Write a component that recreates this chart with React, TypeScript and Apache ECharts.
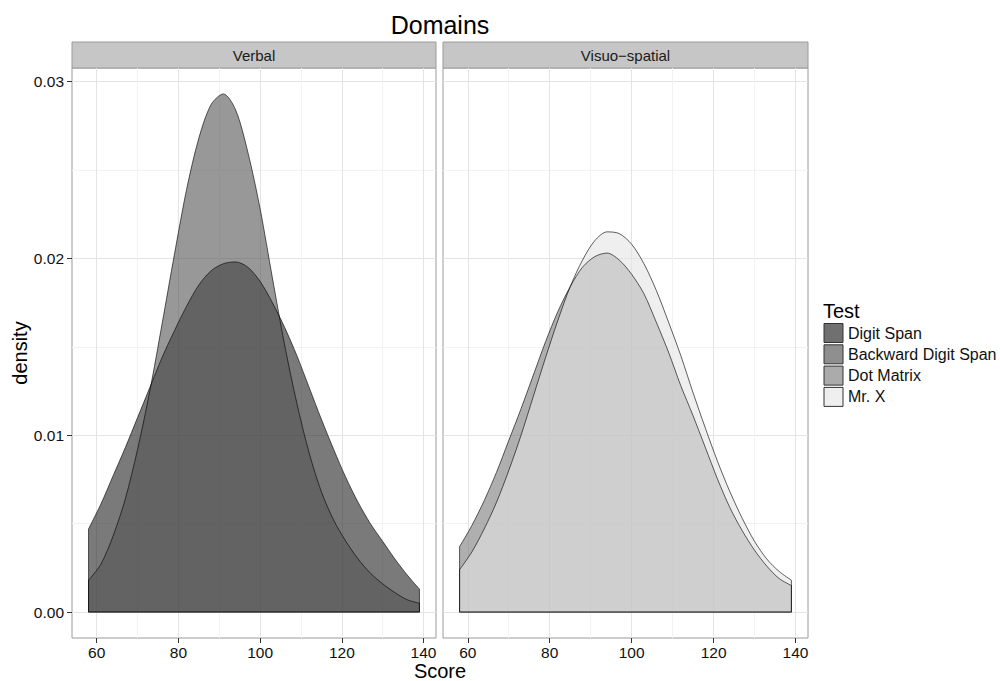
import React, { useEffect, useRef } from "react";
import * as echarts from "echarts";

// ---- data ----
const scores = [58, 61, 64, 67, 70, 73, 76, 79, 82, 85, 88, 91, 94, 97, 100, 103, 106, 109, 112, 115, 118, 121, 124, 127, 130, 133, 136, 139];

const digitSpan = [0.0047, 0.0061, 0.0077, 0.0093, 0.011, 0.0127, 0.0144, 0.0159, 0.0173, 0.0185, 0.0193, 0.0197, 0.0198, 0.0195, 0.0187, 0.0175, 0.0161, 0.0145, 0.0127, 0.0109, 0.0092, 0.0076, 0.0062, 0.005, 0.004, 0.003, 0.0021, 0.0013];
const backwardDigitSpan = [0.0018, 0.0027, 0.0043, 0.0064, 0.0092, 0.0125, 0.0163, 0.0202, 0.0239, 0.0268, 0.0287, 0.0293, 0.0284, 0.026, 0.0228, 0.0189, 0.0151, 0.0118, 0.009, 0.0068, 0.0052, 0.004, 0.003, 0.0022, 0.0016, 0.0011, 0.0007, 0.0005];
const dotMatrix = [0.0037, 0.0049, 0.0063, 0.0079, 0.0097, 0.0115, 0.0134, 0.0153, 0.017, 0.0184, 0.0195, 0.0201, 0.0203, 0.0199, 0.0191, 0.018, 0.0164, 0.0147, 0.0128, 0.0111, 0.0093, 0.0075, 0.0059, 0.0046, 0.0035, 0.0026, 0.0019, 0.0015];
const mrX = [0.0024, 0.0034, 0.0047, 0.0062, 0.008, 0.01, 0.0122, 0.0144, 0.0165, 0.0184, 0.0199, 0.021, 0.0215, 0.0214, 0.0208, 0.0197, 0.0182, 0.0164, 0.0145, 0.0124, 0.0104, 0.0085, 0.0068, 0.0053, 0.004, 0.003, 0.0023, 0.0018];

const testNames = ["Digit Span", "Backward Digit Span", "Dot Matrix", "Mr. X"];
const panels = ["Verbal", "Visuo\u2212spatial"];

const xTicks = [60, 80, 100, 120, 140];
const xMinorTicks = [70, 90, 110, 130];
const yTicks = [0, 0.01, 0.02, 0.03];
const yMinorTicks = [0.005, 0.015, 0.025];

const X_MIN = 53.95;
const X_MAX = 143.05;
const Y_MIN = -0.001465;
const Y_MAX = 0.030765;

const FONT = "Liberation Sans, Arial, Helvetica, sans-serif";
const fillColors = ["#222222", "#545454", "#797979", "#e4e4e4"];
const legendColors = ["#707070", "#8f8f8f", "#ababab", "#efefef"];

const gridBoxes = [
  { left: 72, top: 68, width: 364, height: 570 },
  { left: 443, top: 68, width: 365, height: 570 },
];

export default function App() {
  const ref = useRef<HTMLDivElement>(null);

  useEffect(() => {
    if (!ref.current) return;
    const chart = echarts.init(ref.current, null, { renderer: "svg" });

    const outline = { color: "#000", opacity: 0.62, width: 1 };

    const xAxes: any[] = [];
    const yAxes: any[] = [];
    gridBoxes.forEach((_, gi) => {
      xAxes.push({
        type: "value",
        gridIndex: gi,
        min: X_MIN,
        max: X_MAX,
        position: "bottom",
        axisLine: { show: false, onZero: false },
        axisTick: { show: true, customValues: xTicks, length: 5, lineStyle: { color: "#333", width: 1 } },
        axisLabel: { customValues: xTicks, fontSize: 15.5, color: "#111", margin: 6, fontFamily: FONT },
        splitLine: { show: true, customValues: xTicks, lineStyle: { color: "#e4e4e4", width: 1 } },
      });
      xAxes.push({
        type: "value",
        gridIndex: gi,
        min: X_MIN,
        max: X_MAX,
        position: "top",
        axisLine: { show: false, onZero: false },
        axisTick: { show: false, customValues: xMinorTicks },
        axisLabel: { show: false, customValues: xMinorTicks },
        splitLine: { show: true, customValues: xMinorTicks, lineStyle: { color: "#f2f2f2", width: 1 } },
      });
      yAxes.push({
        type: "value",
        gridIndex: gi,
        min: Y_MIN,
        max: Y_MAX,
        position: "left",
        axisLine: { show: false, onZero: false },
        axisTick: { show: gi === 0, customValues: yTicks, length: 5, lineStyle: { color: "#333", width: 1 } },
        axisLabel: {
          show: gi === 0,
          customValues: yTicks,
          fontSize: 15.5,
          color: "#111",
          margin: 8,
          fontFamily: FONT,
          formatter: (v: number) => v.toFixed(2),
        },
        splitLine: { show: true, customValues: yTicks, lineStyle: { color: "#e4e4e4", width: 1 } },
      });
      yAxes.push({
        type: "value",
        gridIndex: gi,
        min: Y_MIN,
        max: Y_MAX,
        position: "right",
        axisLine: { show: false, onZero: false },
        axisTick: { show: false, customValues: yMinorTicks },
        axisLabel: { show: false, customValues: yMinorTicks },
        splitLine: { show: true, customValues: yMinorTicks, lineStyle: { color: "#f2f2f2", width: 1 } },
      });
    });

    const tests = [
      { name: testNames[0], vals: digitSpan, panel: 0 },
      { name: testNames[1], vals: backwardDigitSpan, panel: 0 },
      { name: testNames[2], vals: dotMatrix, panel: 1 },
      { name: testNames[3], vals: mrX, panel: 1 },
    ];

    const series: any[] = [];
    tests.forEach((t, i) => {
      const last = scores.length - 1;
      series.push({
        type: "line",
        name: t.name,
        xAxisIndex: t.panel * 2,
        yAxisIndex: t.panel * 2,
        data: scores.map((x, k) => [x, t.vals[k]]),
        smooth: 0.3,
        symbol: "none",
        showSymbol: false,
        silent: true,
        lineStyle: outline,
        areaStyle: { color: fillColors[i], opacity: 0.6 },
        z: 2,
      });
      series.push({
        type: "line",
        name: t.name + " outline",
        xAxisIndex: t.panel * 2,
        yAxisIndex: t.panel * 2,
        data: [
          [scores[0], t.vals[0]],
          [scores[0], 0],
          [scores[last], 0],
          [scores[last], t.vals[last]],
        ],
        symbol: "none",
        showSymbol: false,
        silent: true,
        lineStyle: outline,
        z: 2,
      });
    });

    const graphic: any[] = [];
    gridBoxes.forEach((g, gi) => {
      graphic.push({
        type: "rect",
        shape: { x: g.left, y: 42, width: g.width, height: 26 },
        style: { fill: "#c6c6c6", stroke: "#9a9a9a", lineWidth: 1 },
      });
      graphic.push({
        type: "text",
        x: g.left + g.width / 2,
        y: 55,
        style: { text: panels[gi], fontSize: 15, fill: "#1a1a1a", align: "center", verticalAlign: "middle", fontFamily: FONT },
      });
    });
    graphic.push({
      type: "text",
      x: 440,
      y: 25,
      style: { text: "Domains", fontSize: 25, fill: "#000", align: "center", verticalAlign: "middle", fontFamily: FONT },
    });
    graphic.push({
      type: "text",
      x: 440,
      y: 671,
      style: { text: "Score", fontSize: 20, fill: "#000", align: "center", verticalAlign: "middle", fontFamily: FONT },
    });
    graphic.push({
      type: "text",
      x: 20,
      y: 353,
      rotation: Math.PI / 2,
      style: { text: "density", fontSize: 20, fill: "#000", align: "center", verticalAlign: "middle", fontFamily: FONT },
    });
    graphic.push({
      type: "text",
      x: 823,
      y: 311,
      style: { text: "Test", fontSize: 20, fill: "#000", align: "left", verticalAlign: "middle", fontFamily: FONT },
    });

    chart.setOption({
      animation: false,
      backgroundColor: "#ffffff",
      textStyle: { fontFamily: FONT },
      grid: gridBoxes.map((g) => ({
        left: g.left,
        top: g.top,
        width: g.width,
        height: g.height,
        show: true,
        borderColor: "#9a9a9a",
        borderWidth: 1,
        backgroundColor: "transparent",
        containLabel: false,
      })),
      xAxis: xAxes,
      yAxis: yAxes,
      legend: {
        orient: "vertical",
        left: 823.5,
        top: 323,
        padding: 0,
        itemWidth: 19,
        itemHeight: 19,
        itemGap: 1.3,
        icon: "rect",
        selectedMode: false,
        textStyle: { fontSize: 16, color: "#111", fontFamily: FONT },
        data: testNames.map((n, i) => ({
          name: n,
          itemStyle: { color: legendColors[i], borderColor: "#333", borderWidth: 1 },
        })),
      },
      graphic,
      series,
    });

    return () => chart.dispose();
  }, []);

  return (
    <div
      ref={ref}
      style={{ position: "fixed", left: 0, top: 0, width: 1000, height: 681, background: "#fff" }}
    />
  );
}
